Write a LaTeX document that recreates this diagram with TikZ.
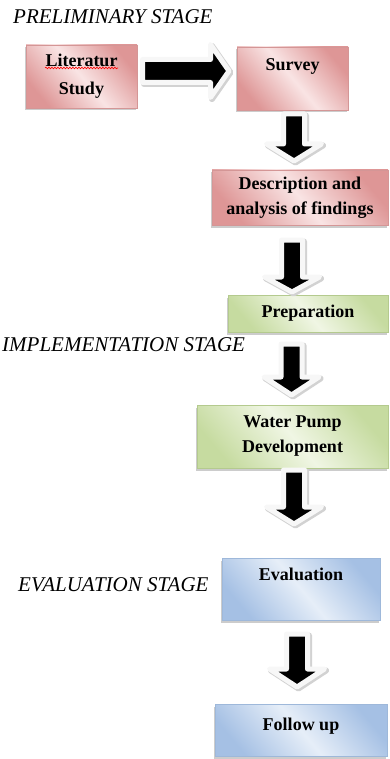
\documentclass[tikz,border=0pt]{standalone}
\usepackage{fontspec}
\setmainfont{Liberation Serif}
\usetikzlibrary{shadows,decorations.pathmorphing}
\definecolor{pinkD}{RGB}{222,150,150}
\definecolor{pinkL}{RGB}{249,228,228}
\definecolor{pinkB}{RGB}{212,150,150}
\definecolor{greenD}{RGB}{198,219,160}
\definecolor{greenL}{RGB}{240,246,228}
\definecolor{greenB}{RGB}{180,202,142}
\definecolor{blueD}{RGB}{165,192,228}
\definecolor{blueL}{RGB}{230,238,248}
\definecolor{blueB}{RGB}{158,184,218}
\tikzset{
  box/.style={rectangle, inner sep=0pt, align=center,
    font=\fontsize{18}{25}\selectfont\bfseries,
    drop shadow={shadow xshift=-1pt, shadow yshift=-2.5pt, opacity=0.4, fill=gray}},
  pinkbox/.style={box, draw=pinkB, line width=0.6pt, top color=pinkD, bottom color=pinkD, middle color=pinkL, shading angle=-50},
  greenbox/.style={box, draw=greenB, line width=0.6pt, top color=greenD, bottom color=greenD, middle color=greenL, shading angle=-50},
  bluebox/.style={box, draw=blueB, line width=0.6pt, top color=blueD, bottom color=blueD, middle color=blueL, shading angle=-50},
  stage/.style={anchor=west, inner sep=0pt, font=\fontsize{21}{25}\selectfont\itshape, text=black},
  arrsh/.style={draw=gray!35, fill=gray!35, line width=6pt, line join=round},
  arrfg/.style={draw=gray!6, fill=black, line width=5pt, line join=round}
}
% cx, shaft top, head top, tip
\newcommand{\blkdown}[4]{%
  \draw[arrsh, shift={(1.5,1.5)}] (#1-10.5,#2) -- (#1+10.5,#2) -- (#1+10.5,#3) -- (#1+27.5,#3) -- (#1,#4) -- (#1-27.5,#3) -- (#1-10.5,#3) -- cycle;
  \draw[arrfg] (#1-10.5,#2) -- (#1+10.5,#2) -- (#1+10.5,#3) -- (#1+27.5,#3) -- (#1,#4) -- (#1-27.5,#3) -- (#1-10.5,#3) -- cycle;
}
\begin{document}
\begin{tikzpicture}[x=1pt, y=-1pt]
\useasboundingbox (0,0) rectangle (389,759);

% stage labels
\node[stage] (prelim) at (13,17) {PRELIMINARY STAGE};
\node[stage] (impl) at (2,345) {IMPLEMENTATION STAGE};
\node[stage] (evalst) at (18,585) {EVALUATION STAGE};

% boxes
\node[pinkbox, minimum width=111pt, minimum height=63pt, font=\fontsize{18}{28}\selectfont\bfseries] (lit) at (81.5,76.5) {Literatur\\Study};
\node[pinkbox, minimum width=111pt, text height=23.5pt, text depth=39.5pt] (survey) at (292.5,78.5) {Survey};
\node[pinkbox, minimum width=176pt, minimum height=55pt] (desc) at (300,197.5) {Description and\\analysis of findings};
\node[greenbox, minimum width=160pt, minimum height=37pt] (prep) at (308,313.5) {Preparation};
\node[greenbox, minimum width=191pt, minimum height=63pt] (pump) at (292.5,436.5) {Water Pump\\Development};
\node[bluebox, minimum width=158pt, text height=22.5pt, text depth=39.5pt] (eval) at (301,589) {Evaluation};
\node[bluebox, minimum width=172pt, text height=25.5pt, text depth=26.5pt] (follow) at (301,730.5) {Follow up};

% spell-check underline
\draw[red, line width=0.6pt, decorate, decoration={snake, amplitude=0.8pt, segment length=3pt}] (45,68) -- (118,68);

% horizontal block arrow
\draw[arrsh, shift={(1.5,1.5)}] (142.5,59.5) -- (210.5,59.5) -- (210.5,44.5) -- (229,71) -- (210.5,97.5) -- (210.5,82.5) -- (142.5,82.5) -- cycle;
\draw[arrfg] (142.5,59.5) -- (210.5,59.5) -- (210.5,44.5) -- (229,71) -- (210.5,97.5) -- (210.5,82.5) -- (142.5,82.5) -- cycle;

% vertical block arrows
\blkdown{294}{114}{144}{161}
\blkdown{292}{240}{277}{292}
\blkdown{291.5}{344}{377}{395}
\blkdown{294}{470}{507}{524}
\blkdown{297}{634}{669}{687}
\end{tikzpicture}
\end{document}
